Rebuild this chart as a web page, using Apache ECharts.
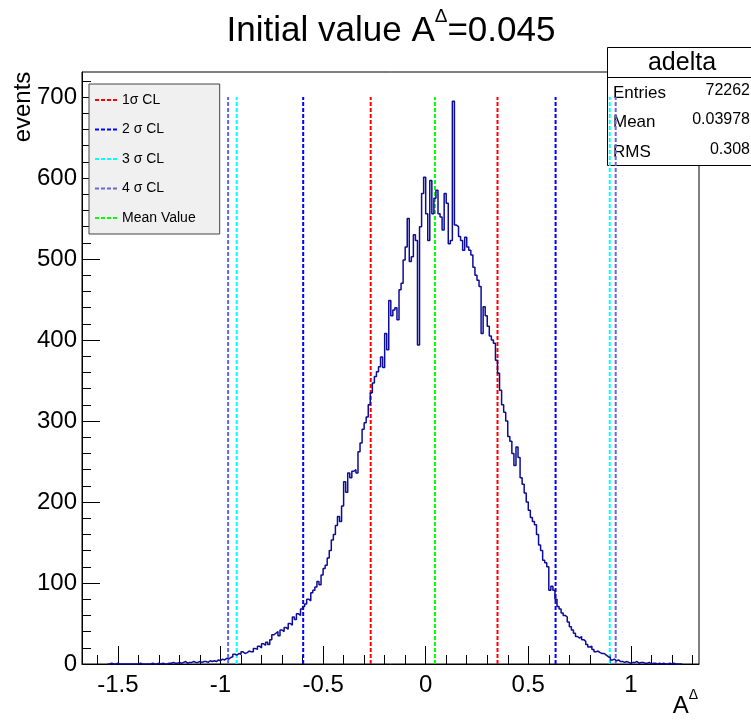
<!DOCTYPE html>
<html><head><meta charset="utf-8">
<script src="https://cdn.jsdelivr.net/npm/echarts@6/dist/echarts.min.js"></script>
<style>html,body{margin:0;padding:0;background:#fff}#c{width:751px;height:721px}</style>
</head><body><div id="c"></div>
<script>
// ---- data ----
const binStart = -1.55;
const binWidth = 0.01;
const counts = [
  0,1,0,0,1,0,0,0,0,0,            // -1.55
  0,0,0,0,0,1,0,0,0,0,            // -1.45
  0,1,0,0,1,0,1,0,0,1,            // -1.35
  1,2,1,1,2,1,2,3,1,2,            // -1.25
  2,3,2,2,3,2,3,3,2,4,            // -1.15
  3,4,3,5,4,6,5,7,6,8,            // -1.05
  9,12,11,13,12,15,13,14,16,15,   // -0.95
  15,19,18,22,20,25,23,27,24,30,  // -0.85
  36,38,40,35,42,40,45,43,50,48,  // -0.75
  58,55,62,60,68,71,74,80,78,88,  // -0.65
  91,95,102,98,110,118,122,131,140,153,  // -0.55
  160,171,182,176,195,225,212,236,230,238, // -0.45
  240,236,262,273,290,298,305,320,335,347, // -0.35
  355,361,367,379,366,408,388,449,430,437, // -0.25
  440,425,462,470,499,515,550,497,503,530, // -0.15
  523,394,540,581,601,556,523,597,556,575, // -0.05
  585,556,552,536,581,569,519,523,695,542, // 0.05
  540,528,523,511,527,515,511,505,490,480, // 0.15
  474,466,408,441,430,417,405,400,396,375, // 0.25
  359,338,320,311,300,281,275,260,245,268, // 0.35
  255,230,222,211,200,190,181,176,172,160, // 0.45
  147,140,128,125,120,91,96,91,80,71,      // 0.55
  68,63,60,58,52,46,42,38,34,32,           // 0.65
  34,30,28,24,21,22,18,15,16,14,           // 0.75
  13,13,11,9,8,5,6,4,5,3,                  // 0.85
  3,2,3,2,1,2,2,3,1,2,                     // 0.95
  2,1,1,2,0,1,1,0,1,0,                     // 1.05
  1,0,0,1,0,1,0,0,0,0                      // 1.15
];
const xMajorTicks = [-1.5, -1, -0.5, 0, 0.5, 1];
const xMinorTicks = [-1.6, -1.4, -1.3, -1.2, -1.1, -0.9, -0.8, -0.7, -0.6, -0.4, -0.3, -0.2, -0.1,
                     0.1, 0.2, 0.3, 0.4, 0.6, 0.7, 0.8, 0.9, 1.1, 1.2, 1.3];
const yMajorTicks = [0, 100, 200, 300, 400, 500, 600, 700];
const yMinorTicks = [20, 40, 60, 80, 120, 140, 160, 180, 220, 240, 260, 280, 320, 340, 360, 380,
                     420, 440, 460, 480, 520, 540, 560, 580, 620, 640, 660, 680, 720];
const clNames = ['1σ CL', '2 σ CL', '3 σ CL', '4 σ CL', 'Mean Value'];
const clLow = [-0.268, -0.597, -0.921, -0.963];
const clHigh = [0.35, 0.633, 0.897, 0.926];
const meanValue = 0.045;
const lineTop = 700;
const statsTitle = 'adelta';
const statsLabels = ['Entries', 'Mean', 'RMS'];
const statsValues = ['72262', '0.03978', '0.308'];

// ---- style ----
const FONT = "'Liberation Sans', Arial, Helvetica, sans-serif";
const clColors = ['#ff0000', '#0000ff', '#00ffff', '#6666e0', '#00ff00'];
const XMIN = -1.675, XMAX = 1.332, YMIN = 0, YMAX = 731;

const histData = counts.map((c, i) => [binStart + i * binWidth, c]);
histData.push([binStart + counts.length * binWidth, counts[counts.length - 1]]);

const series = [];
function vline(name, x, color) {
  series.push({
    name: name, type: 'line', data: [[x, 0], [x, lineTop]],
    symbol: 'none', showSymbol: false, silent: true, z: 2, color: color,
    itemStyle: { color: color, opacity: 0 },
    lineStyle: { color: color, width: 2, type: [4, 2] }
  });
}
for (let i = 0; i < 4; i++) {
  vline(clNames[i], clLow[i], clColors[i]);
  vline(clNames[i], clHigh[i], clColors[i]);
}
vline(clNames[4], meanValue, clColors[4]);
series.push({
  name: statsTitle, type: 'line', step: 'end', data: histData,
  symbol: 'none', silent: true, z: 3,
  lineStyle: { color: '#0c0c98', width: 1.5 }
});

const statsGraphics = [
  { type: 'rect', z: 1, shape: { x: 607.5, y: 47.5, width: 160, height: 118 },
    style: { fill: '#fff', stroke: '#000', lineWidth: 1 } },
  { type: 'line', z: 1, shape: { x1: 607.5, y1: 77.5, x2: 751, y2: 77.5 },
    style: { stroke: '#000', lineWidth: 1 } },
  { type: 'text', z: 1, x: 682, y: 63,
    style: { text: statsTitle, font: '25px ' + FONT, fill: '#000', align: 'center', verticalAlign: 'middle' } }
];
const rowY = [93, 122, 152];
statsLabels.forEach((l, i) => {
  statsGraphics.push({ type: 'text', z: 1, x: 613, y: rowY[i],
    style: { text: l, font: '17px ' + FONT, fill: '#000', align: 'left', verticalAlign: 'middle' } });
  statsGraphics.push({ type: 'text', z: 1, x: 750, y: rowY[i] - 2,
    style: { text: statsValues[i], font: '16px ' + FONT, fill: '#000', align: 'right', verticalAlign: 'middle' } });
});

const chart = echarts.init(document.getElementById('c'), null, { renderer: 'canvas' });
chart.setOption({
  animation: false,
  backgroundColor: '#fff',
  grid: { left: 82, top: 72, width: 617, height: 592, show: true, z: 0,
          borderColor: '#000', borderWidth: 1, backgroundColor: 'transparent' },
  xAxis: [
    { type: 'value', min: XMIN, max: XMAX, position: 'bottom',
      axisLine: { show: true, onZero: false, lineStyle: { color: '#000', width: 1 } },
      axisTick: { show: true, inside: true, length: 18, customValues: xMajorTicks, lineStyle: { color: '#000' } },
      axisLabel: { show: true, customValues: xMajorTicks, margin: 9, color: '#000',
                   fontSize: 24, fontFamily: FONT, formatter: v => String(v) },
      splitLine: { show: false } },
    { type: 'value', min: XMIN, max: XMAX, position: 'bottom',
      axisLine: { show: false, onZero: false },
      axisTick: { show: true, inside: true, length: 9, customValues: xMinorTicks, lineStyle: { color: '#000' } },
      axisLabel: { show: false }, splitLine: { show: false } }
  ],
  yAxis: [
    { type: 'value', min: YMIN, max: YMAX, position: 'left',
      axisLine: { show: true, onZero: false, lineStyle: { color: '#000', width: 1 } },
      axisTick: { show: true, inside: true, length: 18, customValues: yMajorTicks, lineStyle: { color: '#000' } },
      axisLabel: { show: true, customValues: yMajorTicks, margin: 5, color: '#000',
                   fontSize: 24, fontFamily: FONT },
      splitLine: { show: false } },
    { type: 'value', min: YMIN, max: YMAX, position: 'left',
      axisLine: { show: false, onZero: false },
      axisTick: { show: true, inside: true, length: 9, customValues: yMinorTicks, lineStyle: { color: '#000' } },
      axisLabel: { show: false }, splitLine: { show: false } }
  ],
  legend: {
    data: clNames, orient: 'vertical', left: 89, top: 84,
    itemWidth: 22, itemHeight: 14, itemGap: 15.5, padding: [9, 24, 9, 5],
    backgroundColor: '#f0f0f0', borderColor: '#444', borderWidth: 1,
    itemStyle: { opacity: 0 },
    textStyle: { fontSize: 14, fontFamily: FONT, color: '#000' },
    selectedMode: false
  },
  graphic: { elements: [
    { type: 'text', x: 391, y: 28,
      style: { text: '{a|Initial value A}{s|Δ}{a|=0.045}', align: 'center', verticalAlign: 'middle',
        rich: { a: { fontSize: 35, fontFamily: FONT, color: '#000', lineHeight: 42, verticalAlign: 'bottom' },
                s: { fontSize: 19, fontFamily: FONT, color: '#000', lineHeight: 42, verticalAlign: 'top' } } } },
    { type: 'text', x: 23, y: 107, rotation: Math.PI / 2,
      style: { text: 'events', font: '24px ' + FONT, fill: '#000', align: 'center', verticalAlign: 'middle' } },
    { type: 'text', x: 698, y: 718,
      style: { text: '{a|A}{s|Δ}', align: 'right', verticalAlign: 'bottom',
        rich: { a: { fontSize: 24, fontFamily: FONT, color: '#000', lineHeight: 30, verticalAlign: 'bottom' },
                s: { fontSize: 14, fontFamily: FONT, color: '#000', lineHeight: 30, verticalAlign: 'top' } } } }
  ].concat(statsGraphics) },
  series: series
});
</script></body></html>
